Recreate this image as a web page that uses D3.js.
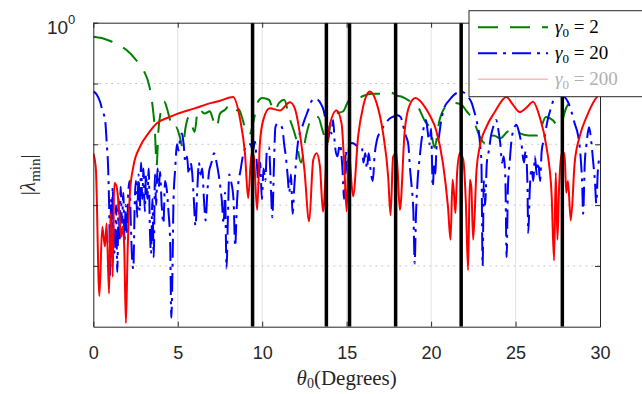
<!DOCTYPE html>
<html>
<head>
<meta charset="utf-8">
<script src="https://cdn.jsdelivr.net/npm/d3@7/dist/d3.min.js"></script>
<style>
  body { margin: 0; background: #fff; }
  svg { display: block; }
</style>
</head>
<body>
<div id="chart"></div>
<script>
// theta0 (degrees), |lambda_min|
const gamma2 = [[0,0.59],[0.5,0.56],[1,0.50],[1.5,0.43],[2,0.35],[2.5,0.25],[3,0.16],[3.3,0.095],[3.5,0.045],[3.65,0.016],[3.75,0.0045],[3.85,0.016],[4,0.035],[4.2,0.05],[4.35,0.04],[4.5,0.028],[4.7,0.018],[4.9,0.019],[5.1,0.014],[5.3,0.0089],[5.45,0.018],[5.65,0.028],[5.85,0.02],[6,0.016],[6.2,0.038],[6.4,0.035],[6.6,0.032],[6.9,0.035],[7.1,0.025],[7.3,0.019],[7.5,0.032],[7.8,0.037],[8,0.042],[8.2,0.035],[8.4,0.034],[8.6,0.038],[8.8,0.028],[9,0.018],[9.25,0.0145],[9.5,0.025],[9.75,0.05],[10,0.0575],[10.4,0.054],[10.7,0.035],[11,0.048],[11.3,0.054],[11.6,0.028],[12,0.0126],[12.3,0.005],[12.6,0.014],[13,0.028],[13.3,0.028],[13.6,0.016],[13.85,0.01],[14.1,0.028],[14.4,0.032],[14.8,0.035],[15,0.045],[15.2,0.056],[15.6,0.056],[16,0.063],[16.5,0.068],[17,0.068],[17.6,0.071],[18,0.063],[18.3,0.06],[18.8,0.05],[19.2,0.042],[19.6,0.025],[20,0.016],[20.2,0.0089],[20.5,0.025],[21,0.045],[21.4,0.048],[21.8,0.045],[22.1,0.035],[22.5,0.025],[22.9,0.013],[23.3,0.01],[23.7,0.014],[24.1,0.0126],[24.5,0.016],[25,0.018],[25.3,0.015],[25.8,0.014],[26.3,0.014],[26.8,0.028],[27.2,0.025],[27.6,0.019],[28,0.04],[28.5,0.056],[29,0.071],[29.5,0.076],[30,0.079]];

const gamma20 = [[0,7.4e-2],[0.2,6.6e-2],[0.4,5.0e-2],[0.55,3.5e-2],[0.7,2.5e-2],[0.8,1.0e-2],[0.88,4.0e-3],[0.95,6.3e-4],[1,7.1e-5],[1.05,1.26e-3],[1.1,4.0e-4],[1.15,2.0e-3],[1.2,2.5e-4],[1.28,1.6e-4],[1.35,1.0e-3],[1.42,7.9e-5],[1.5,1.26e-3],[1.56,2.5e-4],[1.62,2.0e-3],[1.7,5.0e-4],[1.78,1.6e-3],[1.85,2.5e-4],[1.92,1.0e-3],[2,3.2e-4],[2.07,1.6e-3],[2.15,2.5e-3],[2.22,5.0e-4],[2.3,1.26e-4],[2.37,8.9e-5],[2.45,1.0e-3],[2.52,2.5e-3],[2.6,6.3e-4],[2.68,3.2e-3],[2.75,7.9e-4],[2.83,5.0e-3],[2.9,1.26e-3],[2.97,4.0e-3],[3.05,7.9e-4],[3.12,3.2e-3],[3.2,1.26e-3],[3.28,4.0e-3],[3.35,4.0e-4],[3.42,1.6e-4],[3.5,1.26e-3],[3.58,1.4e-4],[3.65,3.2e-3],[3.72,1.0e-3],[3.8,4.0e-3],[3.88,2.0e-3],[3.95,3.5e-3],[4.05,1.0e-3],[4.15,5.0e-4],[4.25,2.5e-3],[4.35,1.8e-3],[4.45,7.9e-4],[4.55,2.5e-4],[4.62,1.4e-5],[4.68,6.3e-5],[4.75,1.26e-3],[4.85,4.0e-3],[4.95,1.0e-2],[5.05,7.9e-3],[5.15,1.3e-2],[5.25,1.5e-2],[5.35,1.0e-2],[5.45,5.0e-3],[5.55,6.3e-3],[5.65,3.2e-3],[5.75,5.0e-3],[5.85,3.5e-3],[5.95,1.26e-3],[6.05,4.5e-4],[6.15,1.6e-3],[6.25,5.0e-3],[6.35,3.2e-3],[6.45,4.0e-3],[6.55,1.26e-3],[6.65,5.6e-4],[6.75,1.6e-3],[6.85,3.5e-3],[7,5.0e-3],[7.15,7.1e-3],[7.3,5.0e-3],[7.45,2.8e-3],[7.6,1.26e-3],[7.72,5.0e-4],[7.8,1.6e-3],[7.89,9.1e-5],[7.97,6.3e-4],[8.05,3.2e-3],[8.15,2.5e-3],[8.3,1.26e-3],[8.4,2.1e-4],[8.5,1.0e-3],[8.6,2.5e-3],[8.7,3.5e-3],[8.85,6.3e-3],[9,8.9e-3],[9.15,1.0e-2],[9.3,1.0e-2],[9.45,7.9e-3],[9.57,1.1e-2],[9.68,5.0e-3],[9.78,2.2e-3],[9.88,5.0e-3],[9.98,1.26e-3],[10.08,4.0e-3],[10.18,2.5e-3],[10.28,7.9e-3],[10.4,8.9e-3],[10.5,2.5e-3],[10.6,6.3e-4],[10.7,5.0e-3],[10.78,1.9e-2],[10.9,2.2e-2],[11.05,2.1e-2],[11.2,1.8e-2],[11.3,1.0e-2],[11.4,6.3e-3],[11.5,3.2e-3],[11.6,1.6e-3],[11.7,3.2e-3],[11.8,7.2e-4],[11.9,2.0e-3],[12,5.0e-3],[12.15,1.26e-2],[12.3,1.7e-2],[12.5,2.5e-2],[12.7,3.5e-2],[12.9,5.0e-2],[13.1,5.6e-2],[13.3,5.4e-2],[13.5,4.5e-2],[13.65,3.5e-2],[13.8,2.0e-2],[13.9,1.26e-2],[14,2.0e-2],[14.1,1.5e-2],[14.2,2.5e-2],[14.3,1.0e-2],[14.45,6.3e-3],[14.6,1.0e-2],[14.75,4.0e-3],[14.85,1.26e-3],[14.95,7.9e-3],[15.05,3.2e-3],[15.15,1.0e-2],[15.3,1.05e-2],[15.5,1.0e-2],[15.7,8.9e-3],[15.9,8.9e-3],[16,5.0e-3],[16.1,7.1e-3],[16.2,4.0e-3],[16.3,7.1e-3],[16.45,3.2e-3],[16.55,2.5e-3],[16.65,6.3e-3],[16.8,1.2e-2],[17,1.6e-2],[17.2,2.0e-2],[17.45,2.5e-2],[17.7,2.8e-2],[18,3.0e-2],[18.2,2.8e-2],[18.35,2.0e-2],[18.5,1.4e-2],[18.65,1.0e-2],[18.75,4.0e-3],[18.85,2.0e-3],[18.95,7.9e-4],[19.03,1.1e-4],[19.1,6.3e-4],[19.2,2.5e-3],[19.33,6.3e-3],[19.45,1.26e-2],[19.55,1.8e-2],[19.7,2.5e-2],[19.8,1.6e-2],[19.9,1.0e-2],[20,1.8e-2],[20.1,2.0e-3],[20.18,5.0e-3],[20.25,3.2e-3],[20.32,8.9e-3],[20.45,1.26e-2],[20.6,2.5e-2],[20.8,4.1e-2],[21.05,5.2e-2],[21.3,6.3e-2],[21.55,7.1e-2],[21.8,7.4e-2],[22,6.9e-2],[22.2,6.0e-2],[22.4,4.8e-2],[22.55,3.5e-2],[22.7,2.4e-2],[22.8,1.8e-2],[22.9,1.0e-2],[22.98,5.0e-3],[23.05,1.0e-4],[23.12,2.5e-3],[23.2,1.0e-3],[23.3,5.0e-3],[23.42,7.9e-3],[23.55,1.4e-2],[23.67,1.9e-2],[23.85,2.5e-2],[24,1.6e-2],[24.1,1.0e-2],[24.2,5.0e-3],[24.3,6.3e-3],[24.4,2.5e-3],[24.47,1.4e-4],[24.55,2.0e-3],[24.65,5.0e-3],[24.75,1.1e-2],[24.9,1.8e-2],[25.05,2.1e-2],[25.2,1.6e-2],[25.35,1.0e-2],[25.5,5.0e-3],[25.6,7.9e-3],[25.7,2.5e-3],[25.75,3.5e-4],[25.85,2.0e-3],[25.95,4.0e-3],[26.05,2.5e-3],[26.15,6.3e-3],[26.25,3.2e-3],[26.35,5.0e-3],[26.45,2.5e-3],[26.55,7.9e-3],[26.7,1.26e-2],[26.9,2.5e-2],[27.1,4.0e-2],[27.3,5.75e-2],[27.5,6.3e-2],[27.7,6.3e-2],[27.9,6.0e-2],[28.1,5.0e-2],[28.3,3.5e-2],[28.5,2.2e-2],[28.7,1.4e-2],[28.85,6.3e-3],[28.95,2.0e-3],[29,7.2e-4],[29.1,5.0e-3],[29.2,1.0e-2],[29.35,1.9e-2],[29.5,1.0e-2],[29.6,5.0e-3],[29.7,2.5e-3],[29.78,1.07e-3],[29.88,4.0e-3],[30,6.3e-3]];

const gamma200 = [[0,7.1e-3],[0.15,4.0e-3],[0.36,3.2e-5],[0.53,4.4e-4],[0.69,2.1e-4],[0.79,5.0e-4],[0.93,3.5e-5],[1.03,7.4e-4],[1.15,6.6e-5],[1.24,2.3e-3],[1.38,2.0e-3],[1.54,7.4e-4],[1.64,3.0e-4],[1.74,4.4e-4],[1.83,2.1e-4],[1.93,1.15e-5],[2.03,1.6e-4],[2.17,1.6e-3],[2.37,4.3e-3],[2.76,9.1e-3],[3.25,1.5e-2],[3.75,2.2e-2],[4.5,2.8e-2],[5,3.2e-2],[6,3.9e-2],[7,4.8e-2],[7.5,5.2e-2],[8.27,6.0e-2],[8.7,2.5e-2],[8.98,7.1e-3],[9.17,1.3e-3],[9.37,7.1e-3],[9.5,6.3e-3],[9.7,8.3e-4],[9.86,1.0e-2],[10.06,2.5e-2],[10.45,3.9e-2],[11.05,3.6e-2],[11.64,4.9e-2],[11.93,3.9e-2],[12.2,1.7e-2],[12.5,3.8e-3],[12.78,5.4e-4],[13.02,5.5e-3],[13.22,7.1e-3],[13.42,4.3e-3],[13.6,7.8e-4],[13.9,1.5e-2],[14.4,3.6e-2],[14.7,2.2e-2],[14.85,5.0e-3],[15,7.9e-4],[15.12,7.9e-3],[15.38,1.4e-3],[15.68,1.35e-2],[15.97,4.1e-2],[16.37,7.4e-2],[16.77,4.8e-2],[17.16,1.5e-2],[17.46,2.9e-3],[17.6,6.8e-4],[17.75,6.2e-3],[17.95,7.1e-3],[18.15,8.3e-4],[18.44,1.7e-2],[18.74,4.5e-2],[19.08,5.75e-2],[19.53,4.5e-2],[19.92,3.0e-2],[20.3,1.7e-2],[20.7,4.9e-3],[21,9.3e-4],[21.15,2.7e-4],[21.27,2.6e-3],[21.35,1.6e-3],[21.44,7.4e-4],[21.54,3.4e-3],[21.7,7.1e-3],[21.9,5.6e-3],[22.05,1.26e-3],[22.19,8.5e-5],[22.29,2.6e-3],[22.38,2.0e-3],[22.49,2.7e-4],[22.69,3.8e-3],[22.88,9.1e-3],[23.28,1.95e-2],[23.77,3.4e-2],[24.46,6.0e-2],[24.84,4.5e-2],[25.25,3.4e-2],[25.64,4.0e-2],[26.04,5.0e-2],[26.43,2.8e-2],[26.83,9.1e-3],[27.13,1.6e-3],[27.28,1.23e-4],[27.38,3.4e-3],[27.48,2.7e-4],[27.58,2.0e-3],[27.72,7.1e-3],[27.9,7.1e-3],[28,1.6e-3],[28.1,2.5e-3],[28.27,5.6e-4],[28.5,4.9e-3],[28.8,1.35e-2],[29.2,2.8e-2],[29.7,5.4e-2],[30,6.9e-2]];

const dividers = [9.43, 13.8, 15.17, 17.9, 21.78, 27.77];
const xTicks = [0, 5, 10, 15, 20, 25, 30];
const yTicks = [1e-4, 1e-3, 1e-2, 1e-1, 1];
const gammaLabels = ["2", "20", "200"];

const W = 642, H = 394;
const margin = { top: 22.7, right: 42, bottom: 67.3, left: 93.3 };
const width = W - margin.left - margin.right;
const height = H - margin.top - margin.bottom;

const svg = d3.select("#chart").append("svg")
    .attr("width", W)
    .attr("height", H);

const g = svg.append("g")
    .attr("transform", `translate(${margin.left}, ${margin.top})`);

const x = d3.scaleLinear().domain([0, 30]).range([0, width]);
const y = d3.scaleLog().domain([1e-5, 1]).range([height, 0]);

const axisColor = "#262626";

// grid
g.append("g").selectAll("line")
    .data(xTicks.slice(1, -1))
    .enter().append("line")
    .attr("x1", d => x(d)).attr("x2", d => x(d))
    .attr("y1", 0).attr("y2", height)
    .attr("stroke", "#e3e3e3").attr("stroke-width", 1);

g.append("g").selectAll("line")
    .data(yTicks.slice(0, -1))
    .enter().append("line")
    .attr("x1", 0).attr("x2", width)
    .attr("y1", d => y(d)).attr("y2", d => y(d))
    .attr("stroke", "#c8c8c8").attr("stroke-width", 1)
    .attr("stroke-dasharray", "2,4");

// curves
g.append("clipPath").attr("id", "clip")
    .append("rect").attr("width", width).attr("height", height);

const line = d3.line()
    .x(d => x(d[0]))
    .y(d => y(d[1]))
    .curve(d3.curveMonotoneX);

const plot = g.append("g").attr("clip-path", "url(#clip)");

const series = [
    { data: gamma2, color: "#008000", dash: "20,12" },
    { data: gamma20, color: "#0000ff", dash: "19,6,3,6" },
    { data: gamma200, color: "#ff0000", dash: null }
];

series.forEach(s => {
    plot.append("path")
        .datum(s.data)
        .attr("fill", "none")
        .attr("stroke", s.color)
        .attr("stroke-width", 2)
        .attr("stroke-linejoin", "round")
        .attr("stroke-dasharray", s.dash)
        .attr("d", line);
});

// vertical dividers
plot.selectAll(".divider")
    .data(dividers)
    .enter().append("line")
    .attr("class", "divider")
    .attr("x1", d => x(d)).attr("x2", d => x(d))
    .attr("y1", 0).attr("y2", height)
    .attr("stroke", "#000").attr("stroke-width", 3.5);

// axes (inward ticks, MATLAB style box)
function styleAxis(sel) {
    sel.select(".domain").attr("stroke", axisColor).attr("stroke-width", 1);
    sel.selectAll(".tick line").attr("stroke", axisColor);
    sel.selectAll(".tick text")
        .attr("fill", axisColor)
        .style("font-family", "'Liberation Sans', Arial, sans-serif")
        .style("font-size", "18px");
}

g.append("g")
    .attr("transform", `translate(0, ${height})`)
    .call(d3.axisBottom(x).tickValues(xTicks).tickSizeInner(-5).tickSizeOuter(0).tickPadding(20))
    .call(styleAxis);

g.append("g")
    .call(d3.axisTop(x).tickValues(xTicks).tickSizeInner(-5).tickSizeOuter(0).tickFormat(""))
    .call(styleAxis);

const yLeft = g.append("g")
    .call(d3.axisLeft(y).tickValues(yTicks).tickSizeInner(-5).tickSizeOuter(0).tickPadding(10)
        .tickFormat(d => d === 1 ? "10" : ""))
    .call(styleAxis);

yLeft.selectAll(".tick text")
    .filter(d => d === 1)
    .attr("dy", "0.55em")
    .attr("x", -18)
    .style("font-size", "19px")
    .append("tspan")
    .attr("dy", "-0.75em")
    .style("font-size", "13px")
    .text("0");

g.append("g")
    .attr("transform", `translate(${width}, 0)`)
    .call(d3.axisRight(y).tickValues(yTicks).tickSizeInner(-5).tickSizeOuter(0).tickFormat(""))
    .call(styleAxis);

// axis labels
const serif = "'Liberation Serif', 'DejaVu Serif', serif";

const xl = svg.append("text")
    .attr("x", margin.left + width / 2)
    .attr("y", 385)
    .attr("text-anchor", "middle")
    .attr("fill", axisColor)
    .style("font-family", serif)
    .style("font-size", "21px");
xl.append("tspan").style("font-style", "italic").text("θ");
xl.append("tspan").attr("dy", 3).style("font-size", "14px").text("0");
xl.append("tspan").attr("dy", -3).text("(Degrees)");

const yl = svg.append("text")
    .attr("transform", `translate(35, ${margin.top + height / 2}) rotate(-90)`)
    .attr("text-anchor", "middle")
    .attr("fill", axisColor)
    .style("font-family", serif)
    .style("font-size", "21px");
yl.append("tspan").text("|");
yl.append("tspan").style("font-style", "italic").text("λ");
yl.append("tspan").attr("dy", 5).style("font-size", "15px").text("min");
yl.append("tspan").attr("dy", -5).text("|");

// legend
const legend = svg.append("g").attr("transform", "translate(469, 10.7)");
legend.append("rect")
    .attr("width", 180).attr("height", 86)
    .attr("fill", "#fff")
    .attr("stroke", axisColor).attr("stroke-width", 1);

const legendItems = series.map((s, i) => ({ ...s, label: gammaLabels[i], faded: i === 2 }));

const li = legend.selectAll(".item")
    .data(legendItems)
    .enter().append("g")
    .attr("class", "item")
    .attr("transform", (d, i) => `translate(0, ${16.5 + i * 26})`);

li.append("line")
    .attr("x1", 9).attr("x2", 79)
    .attr("stroke", d => d.faded ? "#ffb8b8" : d.color)
    .attr("stroke-width", d => d.faded ? 1.5 : 2)
    .attr("stroke-dasharray", d => d.dash);

const lt = li.append("text")
    .attr("x", 86).attr("y", 6)
    .attr("fill", d => d.faded ? "#b0b0b0" : "#000")
    .style("font-family", serif)
    .style("font-size", "19px");
lt.append("tspan").style("font-style", "italic").text("γ");
lt.append("tspan").attr("dy", 4).style("font-size", "13px").text("0");
lt.append("tspan").attr("dy", -4).text(d => " = " + d.label);
</script>
</body>
</html>
